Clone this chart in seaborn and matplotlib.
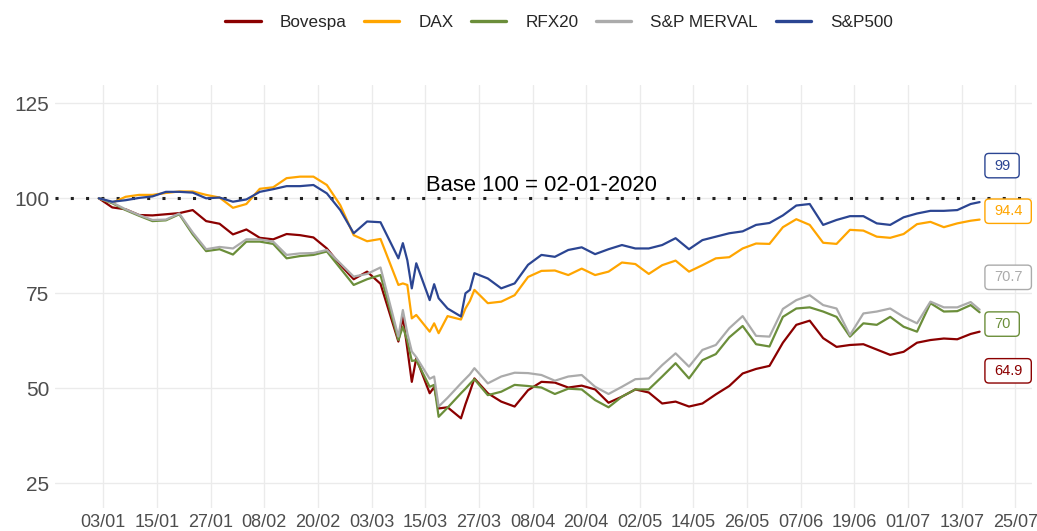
import matplotlib
matplotlib.use("Agg")
import matplotlib.pyplot as plt
import matplotlib.dates as mdates
from matplotlib.patches import FancyBboxPatch
from matplotlib.transforms import IdentityTransform
import pandas as pd
import seaborn as sns

# ---------------- data ----------------
dates = pd.to_datetime([
    "2020-01-02", "2020-01-05", "2020-01-08", "2020-01-11", "2020-01-14",
    "2020-01-17", "2020-01-20", "2020-01-23", "2020-01-26", "2020-01-29",
    "2020-02-01", "2020-02-04", "2020-02-07", "2020-02-10", "2020-02-13",
    "2020-02-16", "2020-02-19", "2020-02-22", "2020-02-25", "2020-02-28",
    "2020-03-02", "2020-03-05", "2020-03-09", "2020-03-10", "2020-03-11",
    "2020-03-12", "2020-03-13", "2020-03-16", "2020-03-17", "2020-03-18",
    "2020-03-20", "2020-03-23", "2020-03-24", "2020-03-25", "2020-03-26",
    "2020-03-29",
    "2020-04-01", "2020-04-04", "2020-04-07", "2020-04-10", "2020-04-13",
    "2020-04-16", "2020-04-19", "2020-04-22", "2020-04-25", "2020-04-28",
    "2020-05-01", "2020-05-04", "2020-05-07", "2020-05-10", "2020-05-13",
    "2020-05-16", "2020-05-19", "2020-05-22", "2020-05-25", "2020-05-28",
    "2020-05-31",
    "2020-06-03", "2020-06-06", "2020-06-09", "2020-06-12", "2020-06-15",
    "2020-06-18", "2020-06-21", "2020-06-24", "2020-06-27", "2020-06-30",
    "2020-07-03", "2020-07-06", "2020-07-09", "2020-07-12", "2020-07-15",
    "2020-07-17"])

series_names = ["Bovespa", "DAX", "RFX20", "S&P MERVAL", "S&P500"]

bovespa = [100, 97.6, 97.1, 95.6, 95.5, 95.8, 96.1, 96.9, 94.0, 93.3,
           90.5, 91.8, 89.6, 89.2, 90.6, 90.3, 89.7, 86.8, 82.5, 78.7,
           80.7, 77.5, 62.3, 68.9, 60.4, 51.7, 57.9, 48.7, 50.3, 44.7,
           45.0, 42.1, 45.8, 49.1, 52.6, 48.7,
           46.5, 45.2, 49.5, 51.7, 51.5, 50.2, 50.7, 49.7, 46.2, 47.8,
           49.7, 48.9, 46.0, 46.5, 45.2, 46.0, 48.4, 50.6, 53.9, 55.1, 55.9,
           62.0, 66.7, 67.8, 63.2, 60.9, 61.4, 61.6, 60.2, 58.8, 59.6,
           62.0, 62.7, 63.1, 62.9, 64.3, 64.9]

dax = [100, 98.8, 100.4, 100.9, 100.9, 101.4, 101.8, 101.8, 100.9, 100.2,
       97.5, 98.5, 102.5, 102.9, 105.3, 105.7, 105.7, 103.5, 98.2, 90.3,
       88.7, 89.3, 77.2, 77.6, 77.2, 68.4, 69.3, 64.9, 67.1, 64.5,
       69.0, 68.1, 71.0, 73.0, 75.9, 72.4,
       72.8, 74.5, 79.3, 80.9, 81.0, 79.8, 81.5, 79.8, 80.7, 83.1,
       82.7, 80.1, 82.4, 83.6, 80.7, 82.4, 84.2, 84.5, 86.8, 88.1, 88.0,
       92.4, 94.5, 93.0, 88.3, 88.0, 91.7, 91.5, 89.9, 89.6, 90.6,
       93.2, 93.8, 92.4, 93.4, 94.1, 94.4]

rfx20 = [100, 98.7, 96.9, 95.4, 94.0, 94.2, 95.8, 90.5, 86.1, 86.6,
         85.2, 88.6, 88.6, 88.0, 84.2, 84.8, 85.1, 86.0, 81.6, 77.2,
         78.7, 79.8, 62.7, 66.2, 62.5, 57.2, 57.4, 50.4, 50.9, 42.5,
         44.9, 48.7, 49.9, 51.2, 52.4, 48.2,
         49.1, 50.9, 50.6, 50.2, 48.5, 49.9, 49.7, 46.9, 45.0, 47.8,
         49.7, 49.7, 53.1, 56.6, 52.6, 57.4, 59.0, 63.4, 66.4, 61.6, 61.0,
         68.8, 71.0, 71.3, 70.2, 68.8, 63.6, 67.1, 66.7, 68.8, 66.2,
         64.9, 72.4, 70.2, 70.3, 71.9, 70.0]

merval = [100, 98.9, 97.1, 95.6, 94.3, 94.4, 96.0, 91.0, 86.6, 87.2,
          86.8, 89.2, 89.2, 88.6, 85.1, 85.5, 85.6, 86.4, 82.9, 79.4,
          80.1, 81.8, 63.6, 70.6, 64.5, 59.7, 58.2, 52.5, 53.1, 45.2,
          47.5, 51.3, 52.5, 53.7, 55.3, 51.3,
          53.1, 54.1, 54.0, 53.5, 52.0, 53.1, 53.5, 50.4, 48.5, 50.4,
          52.4, 52.6, 56.1, 59.2, 55.7, 60.1, 61.4, 65.8, 69.0, 63.8, 63.6,
          70.9, 73.2, 74.5, 71.9, 71.0, 64.0, 69.7, 70.2, 71.0, 68.8,
          67.1, 72.8, 71.3, 71.3, 72.7, 70.7]

sp500 = [100, 99.1, 99.5, 100.1, 100.5, 101.7, 101.7, 101.5, 100.0, 100.2,
         99.1, 99.7, 101.7, 102.4, 103.2, 103.2, 103.5, 101.3, 96.9, 90.8,
         93.9, 93.7, 84.2, 88.2, 83.7, 76.3, 82.9, 73.2, 77.4, 73.7,
         71.0, 68.9, 75.0, 75.9, 80.3, 78.9,
         76.3, 77.6, 82.5, 85.1, 84.6, 86.4, 87.1, 85.3, 86.6, 87.7,
         86.8, 86.8, 87.7, 89.5, 86.6, 89.0, 89.9, 90.8, 91.3, 93.0, 93.5,
         95.5, 98.1, 98.5, 93.0, 94.3, 95.3, 95.3, 93.4, 93.0, 95.0,
         96.0, 96.7, 96.7, 96.9, 98.5, 99.0]

end_labels = ["64.9", "94.4", "70", "70.7", "99"]
x_tick_dates = pd.date_range("2020-01-03", "2020-07-25", freq="12D")
y_ticks = [25, 50, 75, 100, 125]
base_text = "Base 100 = 02-01-2020"

colors = ["#8B0000", "#FFA500", "#6B8E3A", "#ABABAB", "#2B4592"]

# label box vertical positions (data units) -- layout only
label_y = [54.6, 96.6, 66.9, 79.2, 108.6]

values = [bovespa, dax, rfx20, merval, sp500]
df = pd.concat([pd.DataFrame({"fecha": dates, "valor": v, "indice": n})
                for n, v in zip(series_names, values)], ignore_index=True)

# ---------------- plot ----------------
sns.set_theme(style="white")
plt.rcParams["font.family"] = ["Liberation Sans", "DejaVu Sans"]

W, H = 1037, 531
fig = plt.figure(figsize=(W / 100, H / 100), dpi=100)
L, R, T, B = 55, 1032, 85, 508
ax = fig.add_axes([L / W, 1 - B / H, (R - L) / W, (B - T) / H])

sns.lineplot(data=df, x="fecha", y="valor", hue="indice", hue_order=series_names,
             palette=colors, linewidth=1.6, ax=ax, legend=True)

handles, labels = ax.get_legend_handles_labels()
ax.get_legend().remove()
for h in handles:
    h.set_linewidth(2.4)
fig.legend(handles, labels, loc="center", bbox_to_anchor=(559 / W, 1 - 22 / H),
           ncol=5, frameon=False, fontsize=12.3, handlelength=2.06,
           handletextpad=1.1, columnspacing=1.05)

base = mdates.date2num(pd.Timestamp("2020-01-03"))
px_per_day = 4.471
ax.set_xlim(base - (103.3 - L) / px_per_day, base + (R - 103.3) / px_per_day)
ax.set_ylim(50 - (B - 388.3) / 3.8, 50 + (388.3 - T) / 3.8)

ax.axhline(100, color="#222222", linewidth=2.2, linestyle=(0, (1, 4)),
           dash_capstyle="butt", zorder=1)

ax.set_xticks(x_tick_dates)
ax.xaxis.set_major_formatter(mdates.DateFormatter("%d/%m"))
ax.set_yticks(y_ticks)
ax.grid(True, color="#EBEBEB", linewidth=0.95)
ax.set_axisbelow(True)
for s in ax.spines.values():
    s.set_visible(False)
ax.tick_params(axis="both", length=0, labelcolor="#4D4D4D")
ax.tick_params(axis="x", pad=4, labelsize=13)
ax.tick_params(axis="y", pad=4, labelsize=15)
ax.set_xlabel("")
ax.set_ylabel("")

ax.text(mdates.date2num(pd.Timestamp("2020-04-10")), 103.3, base_text,
        ha="center", va="center", fontsize=15.8, color="black")

label_x = mdates.date2num(dates[-1]) + 3.2
texts = []
for txt, ly, c in zip(end_labels, label_y, colors):
    t = ax.text(label_x, ly, txt, ha="left", va="center", fontsize=10.5,
                color=c, zorder=6, clip_on=False)
    texts.append(t)

fig.canvas.draw()
renderer = fig.canvas.get_renderer()
hp, vp = 9.0, 5.2
for t, c in zip(texts, colors):
    bb = t.get_window_extent(renderer)
    patch = FancyBboxPatch((bb.x0 - hp, bb.y0 - vp), bb.width + 2 * hp,
                           bb.height + 2 * vp,
                           boxstyle="round,pad=0,rounding_size=4",
                           fc="white", ec=c, lw=1.0, zorder=5,
                           transform=IdentityTransform(), clip_on=False)
    ax.add_patch(patch)

fig.savefig("out.png", dpi=100)
